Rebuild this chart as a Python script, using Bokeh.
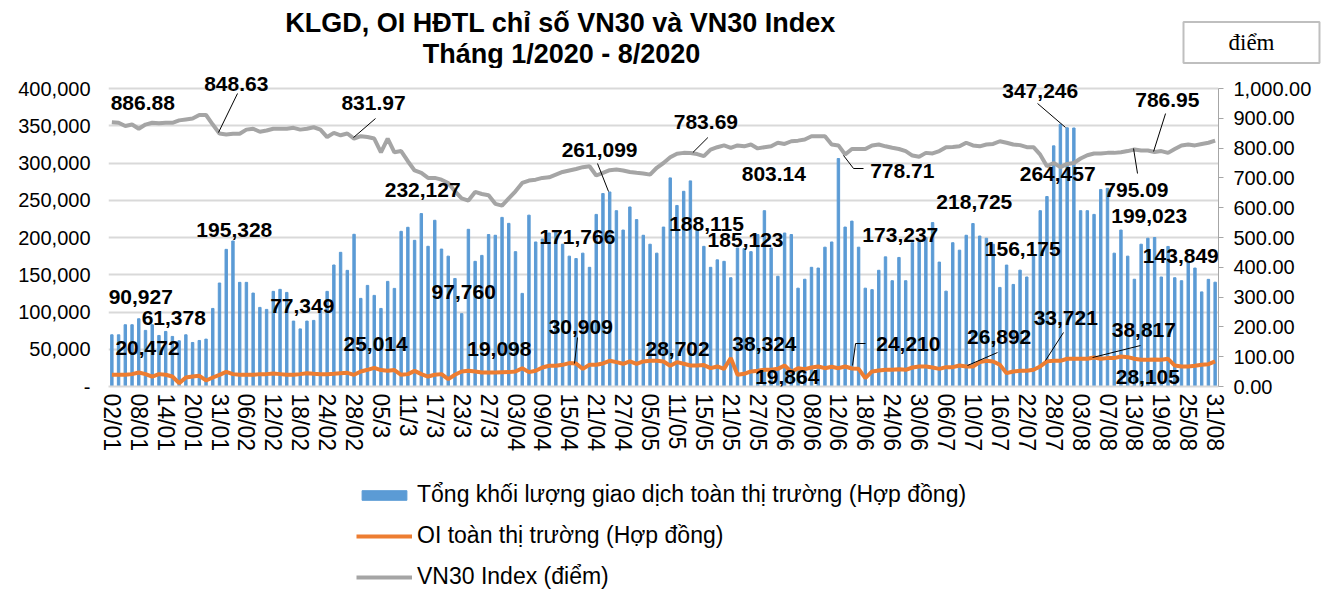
from bokeh.plotting import figure
from bokeh.layouts import column
from bokeh.models import (Range1d, LinearAxis, FixedTicker, NumeralTickFormatter,
                          ColumnDataSource, LabelSet, Label, Legend, LegendItem)
from bokeh.core.properties import value
from bokeh.embed import file_html
from bokeh.resources import INLINE

# ---------------- data ----------------
tick_labels = ["02/01", "08/01", "14/01", "20/01", "31/01", "06/02", "12/02", "18/02", "24/02", "28/02",
               "05/3", "11/3", "17/3", "23/3", "27/3", "03/04", "09/04", "15/04", "21/04", "27/04",
               "05/05", "11/05", "15/05", "21/05", "27/05", "02/06", "08/06", "12/06", "18/06", "24/06",
               "30/06", "06/07", "10/07", "16/07", "22/07", "28/07", "03/08", "07/08", "13/08", "19/08",
               "25/08", "31/08"]

volume = [69400, 69400, 82900, 82900, 90927, 75300, 82900, 68500, 73900, 67200,
          61378, 69400, 59100, 61800, 63600, 104800, 138900, 184100, 195328, 139800,
          139800, 125400, 106200, 103500, 127700, 130400, 126300, 87800, 77349, 87800,
          88700, 105300, 127700, 163100, 180100, 155900, 204300, 118300, 135700, 122300,
          104800, 141100, 131700, 208300, 213700, 196200, 232127, 188200, 223100, 184500,
          175000, 145000, 97760, 211000, 168000, 176000, 204000, 203000, 227000, 219000,
          181000, 125000, 230000, 194000, 198000, 206000, 208000, 191000, 175000, 171766,
          179000, 160000, 231000, 259000, 261099, 236000, 210000, 241000, 224000, 203000,
          191000, 179000, 214000, 280000, 243000, 262000, 276000, 210000, 188115, 160000,
          170000, 168000, 146000, 186000, 185123, 181000, 204000, 236000, 186000, 148000,
          206000, 204000, 132000, 144000, 160000, 159000, 187000, 194000, 306000, 214000,
          222000, 187000, 132000, 130000, 156000, 174000, 142000, 173237, 142000, 193000,
          194000, 200000, 220000, 167000, 128000, 193000, 183000, 203000, 218725, 202000,
          199000, 191000, 133000, 163000, 137000, 156175, 147000, 175000, 236000, 255000,
          323000, 352000, 347246, 347000, 236000, 236000, 231000, 264457, 266000, 179000,
          210000, 175000, 144000, 191000, 199023, 200000, 147000, 188000, 146000, 142000,
          168000, 159000, 127000, 143849, 140000]

oi = [15700, 15700, 15700, 16600, 18800, 16600, 13400, 16600, 15700, 13400,
      4500, 12100, 13400, 14300, 8100, 12100, 15700, 19700, 16600, 15700,
      15700, 15700, 16600, 16600, 17500, 16600, 15700, 15700, 16600, 17900,
      17000, 16600, 16600, 17000, 17900, 18400, 15700, 20200, 22400, 25014,
      22000, 21000, 22000, 15700, 16600, 21000, 16600, 13400, 15700, 16600,
      9900, 15700, 20200, 21100, 20200, 18800, 18800, 18800, 19098, 19300,
      20200, 24600, 19300, 21100, 25500, 27800, 27800, 29100, 31400, 30909,
      23700, 29100, 29100, 30900, 34500, 32700, 30500, 33600, 30500, 33600,
      34500, 34500, 33600, 27800, 32700, 30500, 28200, 28200, 28702, 24600,
      26900, 23700, 38324, 15700, 17000, 20200, 21100, 22400, 22400, 23700,
      28200, 19864, 24600, 23300, 25500, 26900, 24600, 26400, 24600, 26900,
      24210, 23700, 11200, 20200, 21500, 22400, 22400, 23300, 22400, 25500,
      26900, 26900, 25500, 23700, 26000, 26000, 28200, 26892, 26900, 32700,
      34500, 33600, 29100, 17900, 20200, 21100, 21100, 22400, 26900, 33721,
      34500, 34500, 37200, 37200, 37200, 37200, 38817, 37200, 38100, 38100,
      40300, 39400, 37200, 35800, 35800, 36300, 35800, 37200, 28105, 26900,
      26900, 27800, 29100, 30000, 33600]

vn30 = [886.88, 885, 874, 879, 865, 879, 885, 883, 885, 885,
        893, 896, 899, 911, 911, 879, 848.63, 846, 848, 848,
        862, 865, 855, 859, 865, 865, 865, 868, 862, 865,
        870, 862, 837, 851, 843, 849, 831.97, 840, 837, 832,
        786, 832, 786, 790, 756, 725, 717, 700, 700, 694,
        683, 655, 631, 624, 653, 646, 642, 613, 607, 631,
        655, 683, 691, 694, 700, 702, 711, 720, 725, 730,
        736, 739, 708, 717, 726, 728, 725, 720, 717, 715,
        711, 734, 750, 769, 781, 784, 783.69, 780, 773, 795,
        803, 809, 801, 809, 806, 812, 799, 803.14, 806, 818,
        814, 823, 825, 829, 840, 840, 840, 812, 809, 778.71,
        797, 797, 797, 809, 812, 806, 801, 797, 790, 775,
        771, 784, 782, 790, 803, 804, 806, 818, 809, 806,
        812, 814, 823, 818, 812, 810, 803, 803, 778, 739,
        750, 736, 747, 750, 765, 776, 782, 782, 784, 784,
        786, 790, 795.09, 792, 792, 786.95, 790, 784, 797, 809,
        812, 809, 814, 818, 825]

# data-label annotations (text, x in day index, y in left-axis units)
ann_text = ["886.88", "848.63", "831.97", "195,328", "90,927", "61,378", "77,349", "20,472", "25,014",
            "232,127", "97,760", "19,098", "171,766", "30,909", "261,099", "783.69", "188,115", "185,123",
            "28,702", "38,324", "803.14", "778.71", "218,725", "173,237", "156,175", "24,210", "26,892",
            "19,864", "347,246", "786.95", "264,457", "795.09", "199,023", "143,849", "33,721", "38,817",
            "28,105"]
ann_x = [4.6, 18.5, 38.9, 18.2, 4.3, 9.2, 28.3, 5.3, 39.2,
         46.2, 52.3, 57.6, 69.2, 69.7, 72.5, 88.3, 88.4, 94.2,
         84.1, 97.0, 98.4, 117.5, 128.2, 117.2, 135.4, 118.4, 131.9,
         100.4, 138.0, 156.9, 140.6, 152.3, 154.2, 158.9, 141.8, 153.4,
         154.0]
ann_y = [381200, 406700, 379900, 210700, 120800, 92600, 107400, 52300, 57700,
         263100, 127500, 49700, 201300, 80500, 318100, 354400, 217500, 197300,
         49700, 56400, 285900, 288600, 248300, 204000, 185200, 56400, 67100,
         12100, 396000, 385200, 285900, 264400, 228200, 174500, 92600, 76500,
         12100]

# leader lines for some labels
lead_x = [[18.68, 15.85], [39.19, 35.92], [69.22, 68.77], [72.19, 73.83], [88.60, 86.37],
          [108.76, 110.25, 111.73], [112.03, 110.55, 110.10], [131.65, 127.19],
          [137.60, 141.76], [156.63, 154.85], [152.46, 151.87], [141.46, 138.79], [152.91, 145.78]]
lead_y = [[393300, 340900], [359700, 334200], [65800, 30900], [299300, 261700], [334200, 314100],
          [310100, 292600, 292600], [57700, 57700, 28200], [45600, 28200],
          [379900, 347700], [366400, 315400], [285900, 319500], [72500, 34900], [55000, 38900]]

FONT = "Liberation Sans"
W = 1324
HEAD_H = 68

# ---------------- header strip (title + unit box), page-pixel coordinates ----------------
head = figure(width=W, height=HEAD_H, output_backend="svg", toolbar_location=None, title=None,
              x_range=Range1d(0, W), y_range=Range1d(HEAD_H, 0),
              x_axis_location=None, y_axis_location=None, frame_align=False,
              min_border_left=0, min_border_right=0, min_border_top=0, min_border_bottom=0)
head.outline_line_color = None
head.grid.visible = False
head.add_layout(Label(x=560, y=22, text="KLGD, OI HĐTL chỉ số VN30 và VN30 Index",
                      text_font=FONT, text_font_size="27px", text_font_style="bold",
                      text_align="center", text_baseline="middle", text_color="black"))
head.add_layout(Label(x=561, y=53, text="Tháng 1/2020 - 8/2020",
                      text_font=FONT, text_font_size="27px", text_font_style="bold",
                      text_align="center", text_baseline="middle", text_color="black"))
head.add_layout(Label(x=1251, y=42, text="điểm", text_font="Liberation Serif",
                      text_font_size="23px", text_align="center", text_baseline="middle",
                      text_color="black", border_line_color="#bfbfbf", border_line_width=2,
                      background_fill_color="white",
                      padding=dict(left=45, right=45, top=8, bottom=8)))

# ---------------- main chart ----------------
idx = list(range(len(volume)))
VOL_MAX = 400000
VN_MAX = 1000
TOP_PAD = 318 / 298   # frame reaches a little above the 400,000 line for the top labels

p = figure(width=W, height=410, output_backend="svg", toolbar_location=None, title=None,
           x_range=Range1d(-0.5, len(volume) - 0.5), y_range=Range1d(0, VOL_MAX * TOP_PAD),
           min_border_left=108, min_border_right=106, min_border_top=0, min_border_bottom=92)
p.outline_line_color = None
p.background_fill_color = "white"
p.extra_y_ranges = {"vn30": Range1d(0, VN_MAX * TOP_PAD)}

bars = p.vbar(x=idx, top=volume, width=0.36, color="#5b9bd5")
l_oi = p.line(idx, oi, color="#ed7d31", line_width=4)
l_vn = p.line(idx, vn30, color="#a5a5a5", line_width=4, y_range_name="vn30")

xa = p.xaxis[0]
xa.ticker = FixedTicker(ticks=list(range(0, len(volume), 4)))
xa.major_label_overrides = {i * 4: t for i, t in enumerate(tick_labels)}
xa.major_label_orientation = "vertical"
xa.major_label_text_font = FONT
xa.major_label_text_font_size = "23px"
xa.major_label_text_color = "black"
xa.axis_line_color = "#d9d9d9"
xa.axis_line_width = 2
xa.major_tick_line_color = None
xa.major_tick_out = 0
xa.minor_tick_line_color = None
xa.minor_tick_out = 0
xa.major_label_standoff = 7

ya = p.yaxis[0]
ya.ticker = FixedTicker(ticks=list(range(0, VOL_MAX + 1, 50000)))
ya.formatter = NumeralTickFormatter(format="0,0")
ya.major_label_overrides = {0: "-"}
ya.major_label_text_font = FONT
ya.major_label_text_font_size = "20px"
ya.major_label_text_color = "black"
ya.axis_line_color = None
ya.major_tick_line_color = None
ya.minor_tick_line_color = None
ya.major_label_standoff = 12

ra = LinearAxis(y_range_name="vn30", ticker=FixedTicker(ticks=list(range(0, VN_MAX + 1, 100))),
                formatter=NumeralTickFormatter(format="0,0.00"), bounds=(0, VN_MAX))
ra.major_label_text_font = FONT
ra.major_label_text_font_size = "20px"
ra.major_label_text_color = "black"
ra.axis_line_color = "#a6a6a6"
ra.major_tick_line_color = "#a6a6a6"
ra.major_tick_out = 5
ra.major_tick_in = 0
ra.minor_tick_line_color = None
ra.major_label_standoff = 10
p.add_layout(ra, "right")

p.xgrid.grid_line_color = None
p.ygrid.grid_line_color = "#d9d9d9"
p.ygrid.grid_line_width = 2

p.multi_line(xs=lead_x, ys=lead_y, line_color="black", line_width=1)

src = ColumnDataSource(dict(x=ann_x, y=ann_y, text=ann_text))
p.add_layout(LabelSet(x="x", y="y", text="text", source=src, text_font=value(FONT),
                      text_font_size="21px", text_font_style="bold", text_color="black",
                      text_align="center", text_baseline="middle"))

# ---------------- legend strip ----------------
leg = figure(width=W, height=112, output_backend="svg", toolbar_location=None, title=None,
             x_range=Range1d(0, 1), y_range=Range1d(0, 1),
             x_axis_location=None, y_axis_location=None, frame_align=False,
             min_border_left=0, min_border_right=0, min_border_top=0, min_border_bottom=0)
leg.outline_line_color = None
leg.grid.visible = False
# legend-only renderers (zero-size marks, they carry the series styles)
d_bar = leg.vbar(x=[0.5], top=[0], bottom=[0], width=0.01, color="#5b9bd5")
d_oi = leg.line(x=[0.5], y=[0.5], color="#ed7d31", line_width=4)
d_vn = leg.line(x=[0.5], y=[0.5], color="#a5a5a5", line_width=4)
legend = Legend(items=[
    LegendItem(label="Tổng khối lượng giao dịch toàn thị trường (Hợp đồng)", renderers=[d_bar]),
    LegendItem(label="OI toàn thị trường (Hợp đồng)", renderers=[d_oi]),
    LegendItem(label="VN30 Index (điểm)", renderers=[d_vn]),
], location=(356, 0), orientation="vertical")
legend.label_text_font = FONT
legend.label_text_font_size = "23px"
legend.label_text_color = "black"
legend.glyph_width = 56
legend.glyph_height = 12
legend.label_height = 27
legend.spacing = 14
legend.padding = 0
legend.margin = 0
legend.label_standoff = 5
legend.border_line_color = None
legend.background_fill_alpha = 0
leg.add_layout(legend)

layout = column(head, p, leg, spacing=0)
open("out.html", "w").write(file_html(layout, INLINE))
